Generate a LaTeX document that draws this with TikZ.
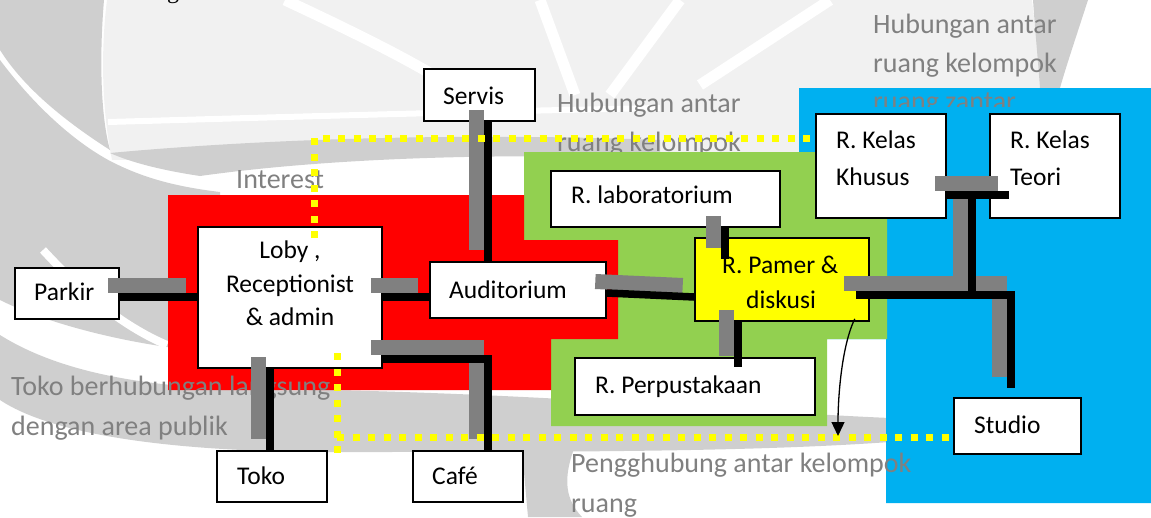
\documentclass[tikz,border=0pt]{standalone}
\usepackage{fontspec}
\setmainfont{Carlito}
\newfontfamily\serifg{Liberation Serif}
\usetikzlibrary{calc,fit,arrows.meta}
\definecolor{cred}{RGB}{255,0,0}
\definecolor{cgreen}{RGB}{146,208,80}
\definecolor{cblue}{RGB}{0,176,240}
\definecolor{cyel}{RGB}{255,255,0}
\definecolor{shad}{RGB}{128,128,128}
\definecolor{gtxt}{RGB}{128,128,128}
\definecolor{wmd}{RGB}{207,207,207}
\definecolor{wml}{RGB}{241,241,241}
\newcommand\myconns[1]{%
  \draw[#1] (parkir.east |- 0,297) -- (loby.west |- 0,297);
  \draw[#1] (loby.east |- 0,297) -- (audit.west |- 0,297);
  \draw[#1] (servis.south -| 488,0) -- (audit.north -| 488,0);
  \draw[#1] (loby.east |- 0,359) -| (cafe.north -| 488,0);
  \draw[#1] (loby.south -| 270,0) -- (toko.north -| 270,0);
  \draw[#1] (audit.east |- 0,293) -- (pamer.west |- 0,297);
  \draw[#1] (lab.south -| 725,0) -- ($(pamer.north -| 725,0)+(0,22)$);
  \draw[#1] (pamer.south -| 738,0) -- ($(perpus.north -| 738,0)+(0,10)$);
  \draw[#1] ($(pamer.east |- 0,295)+(-14,0)$) -| ($(studio.north -| 1011,0)+(0,-9)$);
  \draw[#1] (khusus.east |- 0,195) -- ($(teori.west |- 0,195)+(20,0)$);
  \draw[#1] (tTop) -- (tBot);
}
\begin{document}
\begin{tikzpicture}[x=1pt,y=-1pt,
  boxn/.style={draw=black, line width=1.6pt, fill=white, inner sep=0pt},
  ybox/.style={draw=black, line width=1.6pt, fill=cyel, inner sep=0pt},
  btxt/.style={anchor=base west, inner sep=0pt, font=\fontsize{25.5}{30}\selectfont},
  gtx/.style={anchor=base west, inner sep=0pt, text=gtxt, font=\fontsize{28}{34}\selectfont},
  shd/.style={draw=shad, line width=15pt, transform canvas={shift={(-11.5,-11.5)}}},
  blk/.style={draw=black, line width=7.5pt},
  ydots/.style={draw=cyel, line width=7pt, dash pattern=on 7pt off 8.5pt},
  arr/.style={draw=black, line width=1.3pt, -{Triangle[width=13pt,length=14pt]}},
  ray/.style={draw=white, line width=11pt}
]
\useasboundingbox (0,0) rectangle (1151,517);
% ---------- watermark ----------
\fill[wml] (107,0) -- (1032,0) -- (1042,88) -- (799,88) -- (799,152) -- (112,160) .. controls (100,100) and (102,40) .. (107,0) -- cycle;
\draw[white, line width=6pt] (108,122) .. controls (250,118) and (450,112) .. (660,108);
\draw[ray] (285,0) .. controls (360,35) and (420,65) .. (457,90);
\draw[ray] (540,0) -- (575,95);
\draw[ray] (680,0) -- (610,95);
\draw[ray] (830,0) -- (700,85);
\fill[wmd] (0,0) -- (104,0) .. controls (99,60) and (101,118) .. (110,150) .. controls (60,118) and (22,85) .. (0,50) -- cycle;
\fill[wmd] (0,60) .. controls (30,100) and (70,140) .. (112,162) .. controls (140,176) and (170,186) .. (220,192) -- (220,352) .. controls (160,350) and (60,330) .. (0,300) -- cycle;
\draw[white, line width=8pt] (43,250) .. controls (80,290) and (120,325) .. (167,345);
\fill[wmd] (110,153) .. controls (250,140) and (450,132) .. (660,140) -- (660,158) .. controls (450,152) and (300,162) .. (200,176) .. controls (160,170) and (130,162) .. (110,153) -- cycle;
\fill[wmd] (0,335) .. controls (80,385) and (200,392) .. (330,390) .. controls (560,395) and (750,412) .. (890,418) -- (890,442) .. controls (750,452) and (560,452) .. (330,452) .. controls (200,452) and (60,440) .. (0,400) -- cycle;
\fill[wmd] (522,450) -- (575,446) .. controls (562,480) and (566,500) .. (582,517) -- (528,517) -- cycle;
\fill[wmd] (1033,0) -- (1088,0) .. controls (1075,40) and (1065,70) .. (1060,88) -- (1040,88) .. controls (1038,60) and (1035,30) .. (1033,0) -- cycle;
\node[anchor=base, inner sep=0pt, font=\serifg\fontsize{24}{24}\selectfont] (gfrag) at (173,-2) {g};
% ---------- text behind the green zone ----------
\node[gtx] (hub2a) at (557,112) {Hubungan antar};
\node[gtx] (hub2b) at (557,151) {ruang kelompok};
% ---------- zones ----------
\fill[cblue] (799,88) -- (1151,88) -- (1151,503) -- (886,503) -- (886,339) -- (799,339) -- cycle;
\fill[cgreen] (524,152) -- (887,152) -- (887,339) -- (827,339) -- (827,426) -- (551,426) -- (551,339) -- (618,339) -- (618,240) -- (524,240) -- cycle;
\fill[cred] (168,195) -- (524,195) -- (524,240) -- (618,240) -- (618,339) -- (551,339) -- (551,390) -- (168,390) -- cycle;
% ---------- grey notes ----------
\node[gtx] (hub1a) at (873,33) {Hubungan antar};
\node[gtx] (hub1b) at (873,72) {ruang kelompok};
\begin{scope}
\clip (860,80) rectangle (1100,106);
\node[gtx] (hub1c) at (873,110) {ruang zantar};
\end{scope}
\node[gtx] (inter) at (236,188) {Interest};
\node[gtx] (toko1) at (11,395) {Toko berhubungan langsung};
\node[gtx] (toko2) at (11,435) {dengan area publik};
\node[gtx] (peng1) at (571,472) {Pengghubung antar kelompok};
\node[gtx] (peng2) at (571,512) {ruang};
% ---------- boxes ----------
\node[boxn, fit={(424,69) (535,121)}] (servis) {};
\node[boxn, fit={(15,268) (119,319)}] (parkir) {};
\node[boxn, fit={(198,227) (382,368)}] (loby) {};
\node[boxn, fit={(430,262) (606,318)}] (audit) {};
\node[boxn, fit={(217,451) (327,502)}] (toko) {};
\node[boxn, fit={(413,451) (523,502)}] (cafe) {};
\node[boxn, fit={(551,171) (780,227)}] (lab) {};
\node[ybox, fit={(695,238) (869,321)}] (pamer) {};
\node[boxn, fit={(575,358) (815,415)}] (perpus) {};
\node[boxn, fit={(816,114) (946,218)}] (khusus) {};
\node[boxn, fit={(990,114) (1120,218)}] (teori) {};
\node[boxn, fit={(954,398) (1081,454)}] (studio) {};
\node[btxt] (servisT) at (443,104) {Servis};
\node[btxt] (parkirT) at (34,300) {Parkir};
\node[btxt, anchor=base] (loby1) at (290,258) {Loby ,};
\node[btxt, anchor=base] (loby2) at (290,292) {Receptionist};
\node[btxt, anchor=base] (loby3) at (290,325) {\& admin};
\node[btxt] (auditT) at (449,298) {Auditorium};
\node[btxt] (tokoT) at (237,484) {Toko};
\node[btxt] (cafeT) at (432,484) {Café};
\node[btxt] (labT) at (571,203) {R. laboratorium};
\node[btxt] (khus1) at (836,148) {R. Kelas};
\node[btxt] (khus2) at (836,185) {Khusus};
\node[btxt] (teor1) at (1010,148) {R. Kelas};
\node[btxt] (teor2) at (1010,185) {Teori};
\node[btxt] (pam1) at (722,273) {R. Pamer \&};
\node[btxt] (pam2) at (746,308) {diskusi};
\node[btxt] (perpT) at (595,393) {R. Perpustakaan};
\node[btxt] (studT) at (974,433) {Studio};
% ---------- connectors ----------
\coordinate (tTop) at (972,195);
\coordinate (tBot) at (972,295);
\myconns{shd}
\myconns{blk}
% ---------- yellow dotted links ----------
\coordinate (ya) at (314,238);
\coordinate (yb) at (337,353);
\coordinate (yc) at (337,455);
\coordinate (yd) at (337,437);
\draw[ydots] (ya) -- (314,138) -- (khusus.west |- 0,138);
\draw[ydots] (yb) -- (yc);
\draw[ydots] (yd) -- (studio.west |- 0,437);
% ---------- arrow ----------
\coordinate (arrE) at (838,436);
\draw[arr] ([shift={(-15,-3)}]pamer.south east) .. controls (842,345) and (838,395) .. (arrE);
\end{tikzpicture}
\end{document}
